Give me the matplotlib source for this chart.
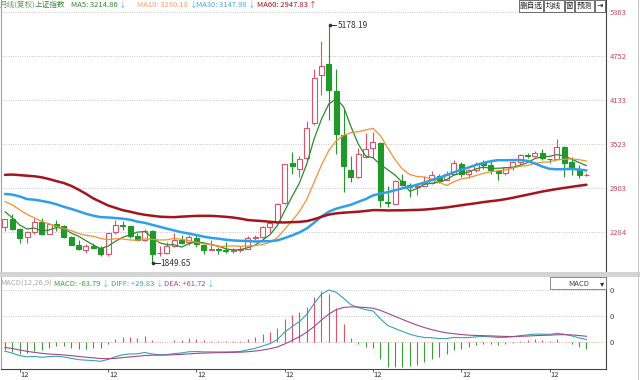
import matplotlib
matplotlib.use('Agg')
import matplotlib.pyplot as plt
from matplotlib.patches import Rectangle
import numpy as np
import pandas as pd

plt.rcParams['font.family'] = ['Noto Sans CJK SC', 'DejaVu Sans']

# Shanghai Composite, monthly bars Oct 2011 .. May 2018
months = pd.period_range('2011-10', '2018-05', freq='M')
opens = [2363, 2470, 2327, 2212, 2286, 2430, 2260, 2400, 2369, 2221, 2104, 2043, 2098, 2070, 1976,
         2289, 2386, 2367, 2237, 2174, 2300, 1994, 1994, 2092, 2178, 2142, 2211,
         2113, 2034, 2057, 2032, 2024, 2036, 2050, 2202, 2218, 2360, 2421, 2690,
         3258, 3163, 3326, 3810, 4480, 4633, 4260, 3643, 3157, 3052, 3337, 3457,
         3537, 2714, 2683, 3000, 2939, 2920, 2931, 2975, 3076, 3012, 3101, 3244,
         3105, 3150, 3246, 3223, 3144, 3107, 3196, 3272, 3358, 3355, 3396, 3309,
         3314, 3478, 3261, 3163, 3081]
highs = [2475, 2536, 2348, 2303, 2479, 2478, 2419, 2453, 2382, 2227, 2174, 2118, 2133, 2093, 2276,
         2452, 2444, 2368, 2269, 2334, 2315, 2092, 2149, 2270, 2243, 2243, 2260,
         2121, 2177, 2082, 2146, 2062, 2087, 2227, 2248, 2368, 2423, 2695, 3239,
         3406, 3350, 3836, 4572, 4958, 5178.19, 4572, 4006, 3357, 3459, 3678, 3684,
         3539, 2934, 3018, 3097, 2977, 2966, 3070, 3140, 3100, 3134, 3301, 3265,
         3175, 3263, 3290, 3295, 3154, 3193, 3280, 3375, 3392, 3419, 3451, 3315,
         3587, 3495, 3335, 3221, 3106]
lows = [2307, 2319, 2134, 2132, 2263, 2242, 2254, 2308, 2209, 2100, 2030, 2001, 2059, 1959, 1949,
        2264, 2309, 2204, 2161, 2165, 1849.65, 1950, 1984, 2085, 2122, 2101, 2085,
        1984, 2030, 1974, 1997, 1991, 2010, 2044, 2175, 2205, 2281, 2385, 2676,
        3095, 3050, 3300, 3785, 4198, 3847, 3373, 2850, 2983, 3039, 3322, 3328,
        2638, 2638, 2681, 2933, 2781, 2807, 2929, 2953, 2969, 3011, 3084, 3050,
        3044, 3124, 3168, 3096, 3017, 3078, 3152, 3226, 3318, 3340, 3291, 3254,
        3305, 3062, 3091, 3041, 3070]
closes = [2468, 2333, 2199, 2292, 2428, 2263, 2397, 2373, 2225, 2103, 2047, 2086, 2069, 1980, 2269,
          2385, 2366, 2237, 2178, 2301, 1979, 1994, 2098, 2175, 2141, 2220, 2116,
          2033, 2056, 2033, 2026, 2039, 2048, 2201, 2217, 2364, 2420, 2683, 3235,
          3210, 3310, 3748, 4441, 4612, 4277, 3664, 3206, 3053, 3383, 3446, 3539,
          2738, 2688, 3004, 2938, 2917, 2930, 2979, 3085, 3005, 3100, 3250, 3104,
          3159, 3242, 3223, 3155, 3117, 3192, 3273, 3361, 3349, 3393, 3317, 3307,
          3481, 3259, 3169, 3082, 3083]

# monthly closes before the first visible bar (Nov 2006 .. Sep 2011), for MA60 / MACD warm-up
prior_closes = [2099, 2675,
                2786, 2881, 3183, 3841, 4109, 3820, 4471, 5218, 5552, 5955, 4871, 5262,
                4383, 4349, 3473, 3693, 3433, 2736, 2775, 2397, 2293, 1729, 1871, 1821,
                1991, 2082, 2374, 2477, 2633, 2959, 3412, 2668, 2779, 2996, 3195, 3277,
                2989, 3051, 3110, 2871, 2592, 2398, 2638, 2639, 2656, 2979, 2820, 2808,
                2791, 2905, 2928, 2911, 2743, 2762, 2701, 2568, 2359]

price_ticks = [2284, 2903, 3523, 4133, 4752, 5363]
ma_periods = [5, 10, 30, 60]
ma_labels = ['MA5: 3214.86', 'MA10: 3280.18', 'MA30: 3147.98', 'MA60: 2947.83']
ma_arrows = ['↓', '↓', '↓', '↑']
macd_labels = ['MACD: -63.79', 'DIFF: +29.83', 'DEA: +61.72']
buttons = ['删自选', '均线', '窗', '预测', '⇥']

RED = '#d8546a'
GREEN = '#1f9a2a'
MA_COLORS = ['#2c8c2c', '#f39035', '#2ea0ea', '#a5141c']
MA_TEXT_COLORS = ['#2c8c2c', '#f4a070', '#4aa8e8', '#a5141c']
MA_WIDTHS = [0.9, 0.9, 1.8, 1.8]

# indicators derived from the closes
all_close = pd.Series(prior_closes + closes, dtype=float)
skip = len(prior_closes)
mas = [all_close.rolling(p).mean().to_numpy()[skip:] for p in ma_periods]
ema12 = all_close.ewm(span=12, adjust=False).mean()
ema26 = all_close.ewm(span=26, adjust=False).mean()
diff_s = ema12 - ema26
dea_s = diff_s.ewm(span=9, adjust=False).mean()
diff = diff_s.to_numpy()[skip:]
dea = dea_s.to_numpy()[skip:]
hist = 2 * (diff - dea)

W, H = 640, 380
fig = plt.figure(figsize=(W / 100, H / 100), dpi=100)
fig.patch.set_facecolor('white')
renderer = fig.canvas.get_renderer()


def fx(px):
    return px / W


def fy(py):
    return 1 - py / H


def ftext(px, py, s, **kw):
    kw.setdefault('va', 'center')
    return fig.text(fx(px), fy(py), s, **kw)


def text_then_arrow(px, py, s, arrow, col, acol, size):
    t = ftext(px, py, s, fontsize=size, color=col)
    x_end = t.get_window_extent(renderer).x1
    ftext(x_end + 1.5, py, arrow, fontsize=size, color=acol)


x = np.arange(len(closes))
x_lim = (-0.54, 81.66)

# ---- main price panel ----
ax = fig.add_axes([fx(1), fy(271), fx(606) - fx(1), 271 / H])
ax.set_xlim(*x_lim)
ax.set_ylim(1743, 5530)

bw = 0.68
for i in range(len(closes)):
    o, h, l, c = opens[i], highs[i], lows[i], closes[i]
    if c >= o:
        ax.vlines(i, l, o, color=RED, lw=0.8, zorder=2)
        ax.vlines(i, c, h, color=RED, lw=0.8, zorder=2)
        ax.add_patch(Rectangle((i - bw / 2, o), bw, c - o, facecolor='white',
                               edgecolor=RED, lw=0.8, zorder=3))
    else:
        ax.vlines(i, l, h, color=GREEN, lw=0.8, zorder=2)
        ax.add_patch(Rectangle((i - bw / 2, c), bw, o - c, facecolor=GREEN,
                               edgecolor=GREEN, lw=0.8, zorder=3))

for vals, col, lw in zip(mas, MA_COLORS, MA_WIDTHS):
    ax.plot(x, vals, color=col, lw=lw, zorder=4, solid_capstyle='round')

# highest / lowest markers
i_hi = int(np.argmax(highs))
i_lo = int(np.argmin(lows))
for i_m, v in [(i_hi, highs[i_hi]), (i_lo, lows[i_lo])]:
    ax.plot([i_m + 0.1, i_m + 1.0], [v, v], color='#333333', lw=0.7, zorder=5)
    ax.plot([i_m + 0.15], [v], marker='o', ms=1.6, color='#333333', zorder=5)
    ax.text(i_m + 1.15, v, '%.2f' % v, fontsize=6, color='#333333', va='center', zorder=5)

ax.set_yticks(price_ticks)
ax.yaxis.tick_right()
ax.tick_params(axis='y', length=0, pad=2.5, labelsize=5.5, labelcolor='#c04a62')
ax.grid(axis='y', linestyle=(0, (1, 1.8)), color='#b4b4b4', lw=0.6)
ax.set_xticks([])
ax.spines['top'].set_visible(False)
ax.spines['bottom'].set_visible(False)
ax.spines['left'].set_color('#a0a0a0')
ax.spines['right'].set_color('#444444')

# ---- MACD panel ----
ax2 = fig.add_axes([fx(1), fy(369), fx(606) - fx(1), (369 - 277) / H])
ax2.set_xlim(*x_lim)
vmax = max(diff.max(), hist.max())
ax2.set_ylim(-0.505 * vmax, 1.248 * vmax)
hist_colors = [RED if v >= 0 else '#3aa03a' for v in hist]
ax2.vlines(x, 0, hist, colors=hist_colors, lw=0.8, zorder=2)
ax2.plot(x, diff, color='#3aa0b4', lw=0.8, zorder=3)
ax2.plot(x, dea, color='#a0488e', lw=0.8, zorder=3)
ax2.axhline(vmax, color='#b4b4b4', ls=(0, (1, 1.8)), lw=0.6, zorder=1)
ax2.axhline(vmax / 2, color='#b4b4b4', ls=(0, (1, 1.8)), lw=0.6, zorder=1)
ax2.axhline(0, color='#e09090', ls=(0, (1, 1.8)), lw=0.6, zorder=1)
ax2.set_yticks([0, vmax / 2, vmax])
ax2.set_yticklabels(['0', '0', '0'])
ax2.yaxis.tick_right()
ax2.tick_params(axis='y', length=0, pad=2.5, labelsize=5.5, labelcolor='#444444')

dec_idx = [i for i, m in enumerate(months) if m.month == 12]
ax2.set_xticks(dec_idx)
ax2.set_xticklabels([])
ax2.tick_params(axis='x', length=2.5, width=0.6, color='#444444')
for i in dec_idx:
    ax2.text(i + 0.12, -0.06, str(months[i].month), transform=ax2.get_xaxis_transform(),
             fontsize=5.5, color='#333333', ha='left', va='center', clip_on=False)
ax2.spines['top'].set_visible(False)
ax2.spines['left'].set_color('#a0a0a0')
ax2.spines['right'].set_color('#444444')
ax2.spines['bottom'].set_color('#444444')

# ---- chrome: separators, header texts, buttons ----
fig.patches.append(Rectangle((0, fy(276.5)), 1, 4.5 / H, transform=fig.transFigure,
                             facecolor='#d4d4d4', edgecolor='none'))
fig.patches.append(Rectangle((fx(637.5), 0), 1.5 / W, 1, transform=fig.transFigure,
                             facecolor='#c8c8c8', edgecolor='none'))

ftext(0, 5, '月线(复权)', fontsize=5.5, color='#6a9a6a')
ftext(35, 5, '上证指数', fontsize=5.5, color='#3a8a3a')
label_x = [71, 137, 196, 257]
arrow_cols = ['#5ab4e6', '#5ab4e6', '#5ab4e6', '#d02020']
for lx, s, a, col, acol in zip(label_x, ma_labels, ma_arrows, MA_TEXT_COLORS, arrow_cols):
    text_then_arrow(lx, 5, s, a, col, acol, 5.5)

btn_edges = [519, 543.5, 564.5, 574.5, 594.5, 606]
for k, lab in enumerate(buttons):
    x0, x1 = btn_edges[k], btn_edges[k + 1] - 0.8
    fig.patches.append(Rectangle((fx(x0), fy(11.5)), (x1 - x0) / W, 11.5 / H,
                                 transform=fig.transFigure, facecolor='white',
                                 edgecolor='#555555', lw=0.6))
    ftext((x0 + x1) / 2, 5.8, lab, fontsize=5.5, color='#222222', ha='center')

ftext(0, 284, 'MACD(12,26,9)', fontsize=5.5, color='#aaaaaa')
macd_x = [54, 111, 164]
macd_cols = ['#3aa03a', '#3aa0b4', '#a0488e']
for lx, s, col in zip(macd_x, macd_labels, macd_cols):
    text_then_arrow(lx, 284, s, '↓', col, '#5ab4e6', 5.5)

fig.patches.append(Rectangle((fx(550), fy(289)), 56 / W, 12 / H, transform=fig.transFigure,
                             facecolor='white', edgecolor='#777777', lw=0.6, zorder=5))
ftext(568, 283.5, 'MACD', fontsize=5.5, color='#444444', zorder=6)
ftext(600, 283.5, '▾', fontsize=6, color='#333333', zorder=6)

fig.savefig('out.png', dpi=100)
